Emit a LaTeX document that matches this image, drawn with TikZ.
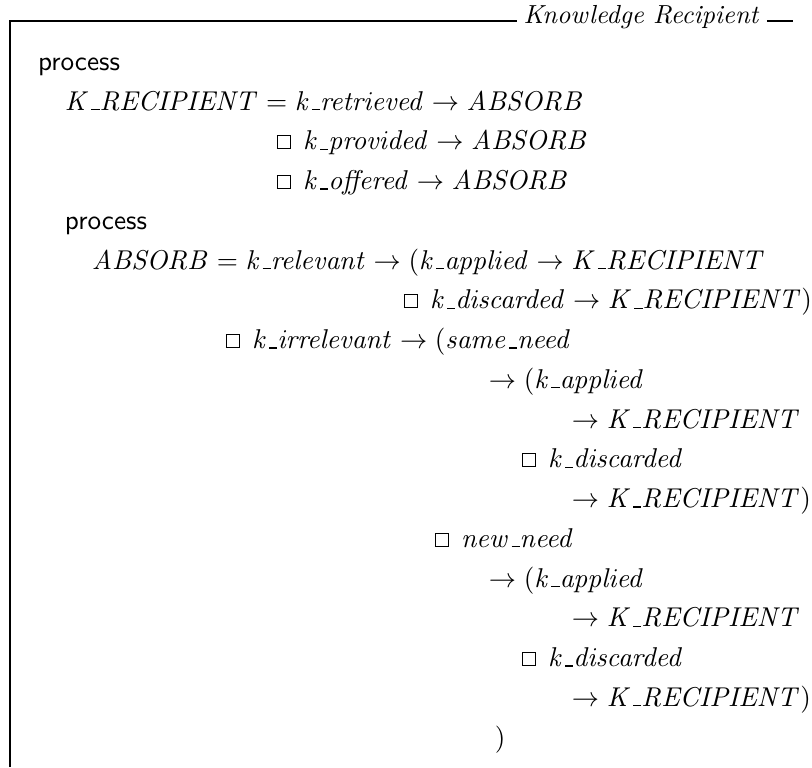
\documentclass[tikz,border=0pt]{standalone}
% short low rule used inside identifiers
\newcommand\us{\mbox{\kern.06em\vbox{\hrule width.3em}}}
% identifiers set in text italic, with ligatures
\newcommand\zid[1]{\mathit{#1}}
% external-choice box used in the process equations
\newcommand\extch{\mbox{\raisebox{0.5pt}{\setlength\fboxsep{0pt}\setlength\fboxrule{0.4pt}\fbox{\rule{0pt}{4.4pt}\rule{4.4pt}{0pt}}}}\kern4.4pt}
\begin{document}
\begin{tikzpicture}[x=0.3676pt,y=-0.3676pt,
  zline/.style={anchor=base west, inner sep=0pt, outer sep=0pt},
  kw/.style={zline, font=\sffamily},
  frame/.style={line width=0.4pt}]
\useasboundingbox (0,0) rectangle (812,767);

% schema frame and its name
\coordinate (topleft) at (10,21);
\coordinate (botleft) at (10,767);
\coordinate (rule1end) at (517,21);
\coordinate (rule2start) at (767,21);
\coordinate (rule2end) at (793,21);
\node[anchor=base, inner sep=0pt, font=\fontsize{9.6}{12}\selectfont\itshape] (title) at (641,23) {Knowledge Recipient};
\draw[frame] (botleft) -- (topleft) -- (rule1end);
\draw[frame] (rule2start) -- (rule2end);

% process definitions, one node per line
\node[kw]    (l1)  at (38,70.25)  {process};
\node[zline] (l2)  at (65,110.0)  {$\zid{K\us RECIPIENT} = \zid{k\us retrieved} \rightarrow \zid{ABSORB}$};
\node[zline] (l3)  at (277,149.75) {$\extch \zid{k\us provided} \rightarrow \zid{ABSORB}$};
\node[zline] (l4)  at (277,189.5) {$\extch \zid{k\us offered} \rightarrow \zid{ABSORB}$};
\node[kw]    (l5)  at (65,229.25) {process};
\node[zline] (l6)  at (92,269.0)  {$\zid{ABSORB} = \zid{k\us relevant} \rightarrow (\zid{k\us applied} \rightarrow \zid{K\us RECIPIENT}$};
\node[zline] (l7)  at (404,308.75) {$\extch \zid{k\us discarded} \rightarrow \zid{K\us RECIPIENT})$};
\node[zline] (l8)  at (226,348.5) {$\extch \zid{k\us irrelevant} \rightarrow (\zid{same\us need}$};
\node[zline] (l9)  at (489,388.25) {$\rightarrow (\zid{k\us applied}$};
\node[zline] (l10) at (572,428.0) {$\rightarrow \zid{K\us RECIPIENT}$};
\node[zline] (l11) at (522,467.75) {$\extch \zid{k\us discarded}$};
\node[zline] (l12) at (572,507.5) {$\rightarrow \zid{K\us RECIPIENT})$};
\node[zline] (l13) at (435,547.25) {$\extch \zid{new\us need}$};
\node[zline] (l14) at (489,587.0) {$\rightarrow (\zid{k\us applied}$};
\node[zline] (l15) at (572,626.75) {$\rightarrow \zid{K\us RECIPIENT}$};
\node[zline] (l16) at (522,666.5) {$\extch \zid{k\us discarded}$};
\node[zline] (l17) at (572,706.25) {$\rightarrow \zid{K\us RECIPIENT})$};
\node[zline] (l18) at (495,746.0) {$)$};
\end{tikzpicture}
\end{document}
